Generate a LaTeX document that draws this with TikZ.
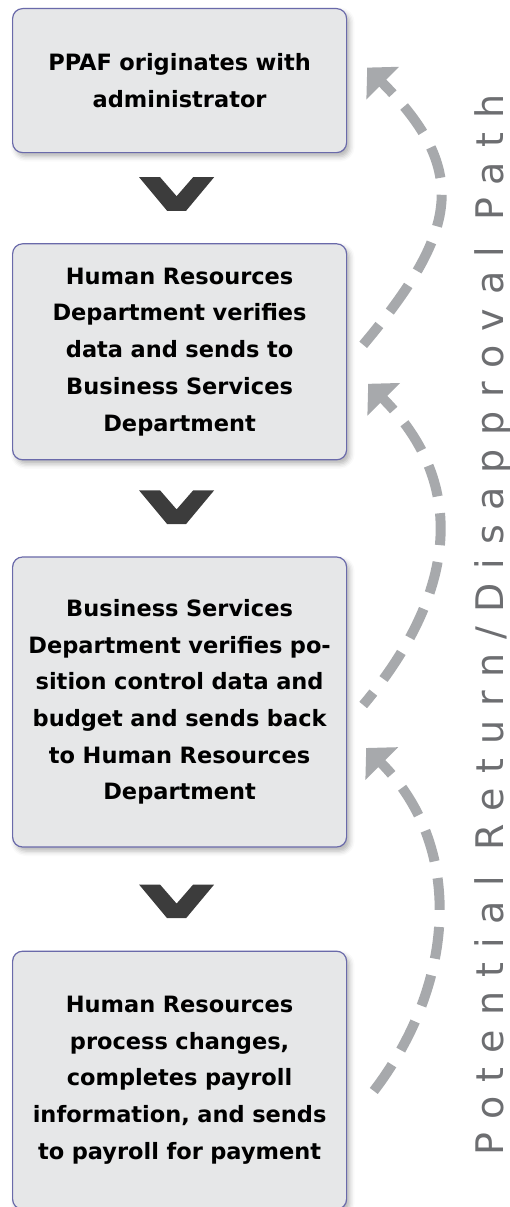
\documentclass[tikz,border=0pt]{standalone}
\usepackage{fontspec}
\setmainfont{DejaVu Sans}
\usetikzlibrary{positioning,arrows.meta,shadows.blur}

\definecolor{stepfill}{HTML}{E6E7E8}
\definecolor{stepedge}{HTML}{6A6AAA}
\definecolor{chevrongray}{HTML}{3C3C3C}
\definecolor{returngray}{HTML}{A7A9AC}
\definecolor{labelgray}{HTML}{6D6E71}

\tikzset{
  stepbox/.style={draw=stepedge, line width=1.2pt, fill=stepfill, rounded corners=10pt,
    text width=320pt, inner xsep=7pt, inner ysep=0pt, align=center,
    font=\bfseries\fontsize{22.5}{36.7}\selectfont,
    blur shadow={shadow xshift=3pt, shadow yshift=-4pt, shadow blur radius=5pt, shadow opacity=30}},
  returnpath/.style={returngray, line width=10pt, dash pattern=on 32pt off 17pt, dash phase=16pt,
    {Triangle[length=22pt,width=45pt]}-},
  chevron/.pic={\fill[chevrongray] (-37.5,0) -- (-16.5,0) -- (0,-19) -- (16.5,0) -- (37.5,0)
    -- (9.5,-33.6) -- (-9.5,-33.6) -- cycle;}
}

\begin{document}
\begin{tikzpicture}[x=1pt,y=1pt]
    \useasboundingbox (0,0) rectangle (510,-1207);

    % the four steps
    \node[stepbox, minimum height=144pt, anchor=north west] (b1) at (12,-8)
        {PPAF originates with\\administrator};
    \node[stepbox, minimum height=216pt, below=90pt of b1] (b2)
        {Human Resources\\Department verifies\\data and sends to\\Business Services\\Department};
    \node[stepbox, minimum height=290pt, below=96pt of b2] (b3)
        {Business Services\\Department verifies po-\\sition control data and\\budget and sends back\\to Human Resources\\Department};
    \node[stepbox, minimum height=258pt, below=103pt of b3] (b4)
        {Human Resources\\process changes,\\completes payroll\\information, and sends\\to payroll for payment};

    % chevrons between steps
    \foreach \a/\b in {b1/b2, b2/b3, b3/b4}
        \pic at ([xshift=-3pt,yshift=66pt]\b.north) {chevron};

    % dashed return arcs
    \draw[returnpath] ([xshift=20pt,yshift=13pt]b1.east)
        to[out=-45,in=50,looseness=1.35] ([xshift=16pt,yshift=7pt]b2.east);
    \draw[returnpath] ([xshift=21pt,yshift=-32pt]b2.east)
        to[out=-45,in=50,looseness=1.14] ([xshift=16pt,yshift=-3pt]b3.east);
    \draw[returnpath] ([xshift=19pt,yshift=-46pt]b3.east)
        to[out=-45,in=50,looseness=1.03] ([xshift=16pt,yshift=-24pt]b4.east);

    \node[rotate=90, anchor=base, text=labelgray,
        font=\fontsize{38}{40}\selectfont\addfontfeatures{LetterSpace=37}] (pathlabel)
        at (503,-625) {Potential Return/Disapproval Path};
\end{tikzpicture}
\end{document}
